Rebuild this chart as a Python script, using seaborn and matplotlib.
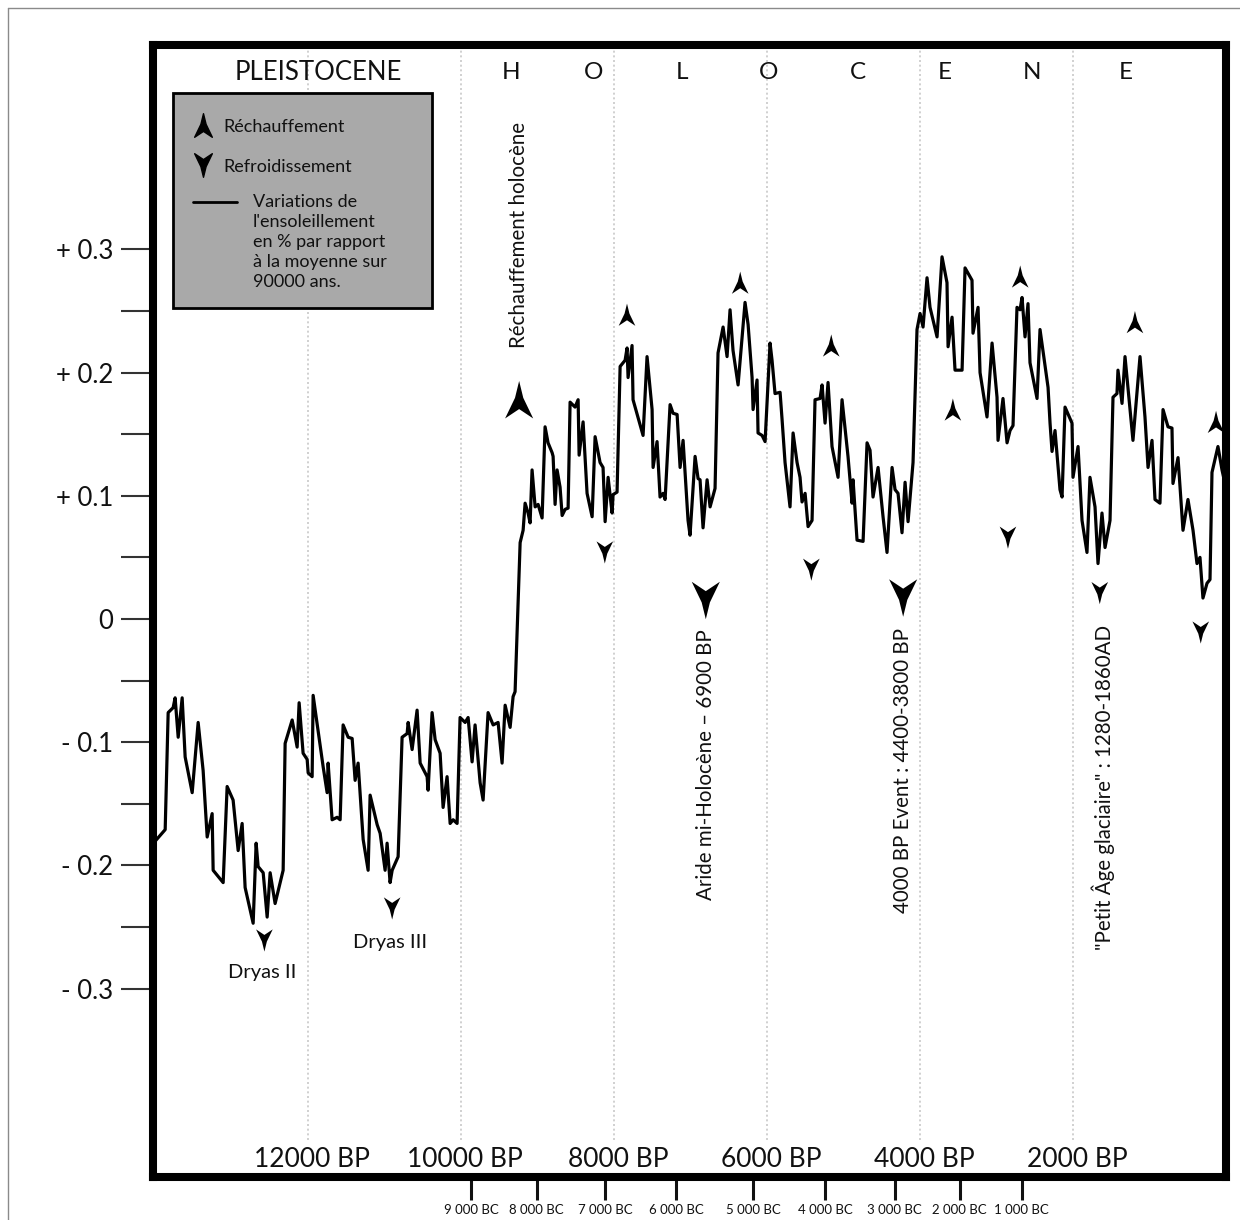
import matplotlib
matplotlib.use("Agg")
import matplotlib.pyplot as plt
import seaborn as sns
from matplotlib.path import Path
from matplotlib.patches import Rectangle
from matplotlib.lines import Line2D

# ---------------- data ----------------
years_bp = [14063, 13867, 13828, 13763, 13737, 13697, 13645, 13606, 13514, 13436,
            13371, 13318, 13253, 13240, 13109, 13057, 12979, 12913, 12861, 12822,
            12717, 12678, 12652, 12586, 12534, 12495, 12430, 12325, 12299, 12207,
            12142, 12116, 12064, 12011, 11998, 11946, 11933, 11802, 11750, 11737,
            11685, 11619, 11580, 11541, 11475, 11423, 11384, 11345, 11279, 11214,
            11188, 11096, 11057, 10992, 10966, 10927, 10900, 10822, 10770, 10704,
            10691, 10639, 10574, 10534, 10443, 10430, 10378, 10338, 10273, 10234,
            10182, 10142, 10103, 10051, 10012, 9946, 9907, 9855, 9816, 9750,
            9711, 9646, 9580, 9515, 9463, 9423, 9358, 9319, 9293, 9227,
            9188, 9162, 9123, 9097, 9071, 9031, 8992, 8940, 8901, 8862,
            8809, 8796, 8770, 8744, 8705, 8678, 8639, 8600, 8574, 8509,
            8469, 8456, 8404, 8352, 8286, 8247, 8182, 8143, 8116, 8077,
            8025, 8012, 7960, 7920, 7855, 7829, 7816, 7764, 7751, 7620,
            7568, 7502, 7489, 7437, 7398, 7358, 7332, 7267, 7228, 7175,
            7136, 7097, 7032, 7006, 6940, 6901, 6875, 6836, 6783, 6744,
            6679, 6640, 6574, 6522, 6483, 6444, 6378, 6287, 6247, 6195,
            6182, 6130, 6117, 6064, 6025, 5960, 5934, 5895, 5829, 5803,
            5764, 5699, 5659, 5607, 5568, 5542, 5502, 5463, 5411, 5372,
            5306, 5280, 5241, 5202, 5150, 5071, 5019, 4941, 4888, 4875,
            4823, 4744, 4692, 4653, 4614, 4548, 4483, 4431, 4365, 4326,
            4287, 4235, 4195, 4156, 4091, 4039, 3999, 3960, 3908, 3869,
            3777, 3712, 3647, 3633, 3581, 3542, 3450, 3411, 3320, 3307,
            3241, 3215, 3124, 3058, 2993, 2980, 2915, 2862, 2823, 2784,
            2732, 2692, 2666, 2627, 2588, 2562, 2470, 2431, 2326, 2300,
            2274, 2235, 2170, 2143, 2104, 2013, 2000, 1934, 1882, 1817,
            1778, 1712, 1673, 1621, 1581, 1516, 1477, 1425, 1412, 1359,
            1320, 1216, 1124, 1059, 1019, 967, 928, 863, 823, 758,
            706, 693, 627, 562, 497, 431, 379, 340, 301, 248,
            209, 183, 105, 52, 13]
insolation = [-0.185, -0.171, -0.076, -0.072, -0.064, -0.096, -0.064, -0.112, -0.141, -0.084,
              -0.123, -0.177, -0.158, -0.204, -0.214, -0.136, -0.147, -0.188, -0.166, -0.218,
              -0.247, -0.182, -0.201, -0.206, -0.242, -0.206, -0.231, -0.204, -0.101, -0.082,
              -0.104, -0.068, -0.109, -0.114, -0.125, -0.128, -0.062, -0.120, -0.141, -0.117,
              -0.163, -0.161, -0.163, -0.086, -0.096, -0.097, -0.131, -0.117, -0.179, -0.204,
              -0.143, -0.167, -0.174, -0.204, -0.182, -0.214, -0.204, -0.193, -0.096, -0.093,
              -0.084, -0.106, -0.074, -0.117, -0.128, -0.139, -0.076, -0.098, -0.109, -0.153,
              -0.128, -0.166, -0.163, -0.166, -0.080, -0.084, -0.080, -0.116, -0.086, -0.133,
              -0.147, -0.076, -0.086, -0.084, -0.117, -0.070, -0.088, -0.063, -0.059, 0.062,
              0.072, 0.094, 0.086, 0.078, 0.121, 0.091, 0.093, 0.082, 0.156, 0.143,
              0.135, 0.132, 0.093, 0.121, 0.107, 0.084, 0.089, 0.090, 0.176, 0.172,
              0.178, 0.133, 0.160, 0.102, 0.083, 0.148, 0.127, 0.123, 0.079, 0.115,
              0.086, 0.101, 0.103, 0.205, 0.210, 0.220, 0.196, 0.222, 0.178, 0.149,
              0.213, 0.170, 0.123, 0.144, 0.099, 0.102, 0.097, 0.174, 0.167, 0.166,
              0.123, 0.145, 0.080, 0.068, 0.132, 0.114, 0.113, 0.074, 0.113, 0.091,
              0.106, 0.216, 0.237, 0.213, 0.251, 0.218, 0.190, 0.257, 0.239, 0.196,
              0.170, 0.194, 0.151, 0.149, 0.144, 0.224, 0.210, 0.183, 0.184, 0.162,
              0.127, 0.091, 0.151, 0.127, 0.115, 0.095, 0.102, 0.075, 0.080, 0.178,
              0.179, 0.190, 0.159, 0.192, 0.140, 0.115, 0.178, 0.132, 0.094, 0.113,
              0.064, 0.063, 0.143, 0.137, 0.099, 0.123, 0.083, 0.054, 0.123, 0.105,
              0.102, 0.070, 0.111, 0.079, 0.127, 0.235, 0.248, 0.237, 0.277, 0.253,
              0.229, 0.294, 0.273, 0.221, 0.245, 0.202, 0.202, 0.285, 0.275, 0.232,
              0.253, 0.200, 0.164, 0.224, 0.180, 0.145, 0.179, 0.143, 0.153, 0.157,
              0.253, 0.251, 0.261, 0.229, 0.256, 0.208, 0.179, 0.235, 0.188, 0.159,
              0.136, 0.153, 0.105, 0.099, 0.172, 0.159, 0.115, 0.140, 0.080, 0.054,
              0.115, 0.091, 0.045, 0.086, 0.058, 0.080, 0.180, 0.183, 0.202, 0.175,
              0.213, 0.145, 0.213, 0.164, 0.123, 0.145, 0.097, 0.094, 0.170, 0.156,
              0.155, 0.110, 0.131, 0.072, 0.097, 0.072, 0.045, 0.050, 0.017, 0.029,
              0.032, 0.119, 0.140, 0.121, 0.110]

warm_bp = [7830, 6350, 5160, 3570, 2690, 1190, 130]
warm_val = [0.247, 0.273, 0.222, 0.170, 0.278, 0.241, 0.160]
cool_bp = [12570, 10900, 8120, 5420, 2850, 1650, 330]
cool_val = [-0.261, -0.235, 0.054, 0.040, 0.066, 0.021, -0.011]
big_warm_bp = [9240]
big_warm_val = [0.178]
big_cool_bp = [6800, 4220]
big_cool_val = [0.015, 0.017]

bp_ticks = [12000, 10000, 8000, 6000, 4000, 2000]
bp_labels = ["12000 BP", "10000 BP", "8000 BP", "6000 BP", "4000 BP", "2000 BP"]
bc_ticks_bp = [9870, 9010, 8120, 7190, 6180, 5240, 4330, 3480, 2670]
bc_labels = ["9 000 BC", "8 000 BC", "7 000 BC", "6 000 BC", "5 000 BC",
             "4 000 BC", "3 000 BC", "2 000 BC", "1 000 BC"]
y_ticks = [0.3, 0.2, 0.1, 0.0, -0.1, -0.2, -0.3]
y_labels = ["+ 0.3", "+ 0.2", "+ 0.1", "0", "- 0.1", "- 0.2", "- 0.3"]
y_minor = [0.25, 0.15, 0.05, -0.05, -0.15, -0.25]

holocene_letters = ["H", "O", "L", "O", "C", "E", "N", "E"]
holocene_bp = [9345, 8273, 7110, 5973, 4810, 3673, 2536, 1307]

event_texts = ["Réchauffement holocène", "Aride mi-Holocène – 6900 BP",
               "4000 BP Event : 4400-3800 BP", "\"Petit Âge glaciaire\" : 1280-1860AD"]
event_bp = [9240, 6796, 4222, 1608]
event_val = [0.312, -0.118, -0.123, -0.137]

dryas_texts = ["Dryas II", "Dryas III"]
dryas_bp = [12600, 10926]
dryas_val = [-0.287, -0.263]

legend_notes = ["Variations de", "l'ensoleillement", "en % par rapport",
                "à la moyenne sur", "90000 ans."]

# ---------------- style ----------------
sns.set_theme(style="white")
plt.rcParams['font.family'] = ['Lato', 'DejaVu Sans']
TXT = "#111111"

fig = plt.figure(figsize=(12.4, 12.2), dpi=100)
ax = fig.add_axes([0.1234, 0.03525, 0.8653, 0.9275])

# figure thin frame (top & left)
fig.add_artist(Line2D([0.0065, 1.0], [0.9934, 0.9934], color="#8a8a8a", lw=1.0))
fig.add_artist(Line2D([0.0065, 0.0065], [0.0, 0.9934], color="#8a8a8a", lw=1.0))

ymin, ymax = -0.4530, 0.4656
ax.set_xlim(14026, 0)
ax.set_ylim(ymin, ymax)

# dotted vertical guides
ax.vlines(bp_ticks, ymin=-0.423, ymax=ymax, colors="#c8c8c8",
          linestyles=(0, (1.2, 1.6)), linewidth=1.2, zorder=0)

# main curve
sns.lineplot(x=years_bp, y=insolation, ax=ax, sort=False, estimator=None,
             color="black", linewidth=2.3, zorder=3)

# arrow markers
up_verts = [(0, 1), (0.22, 0.1), (0.75, -1), (0, -0.5), (-0.75, -1), (-0.22, 0.1), (0, 1)]
codes = [Path.MOVETO] + [Path.LINETO] * 5 + [Path.CLOSEPOLY]
up_path = Path(up_verts, codes)
down_path = Path([(x, -y) for x, y in up_verts], codes)

sns.scatterplot(x=warm_bp, y=warm_val, ax=ax, marker=up_path, s=16 ** 2,
                color="black", edgecolor="none", zorder=4)
sns.scatterplot(x=cool_bp, y=cool_val, ax=ax, marker=down_path, s=16 ** 2,
                color="black", edgecolor="none", zorder=4)
sns.scatterplot(x=big_warm_bp, y=big_warm_val, ax=ax, marker=up_path, s=27 ** 2,
                color="black", edgecolor="none", zorder=4)
sns.scatterplot(x=big_cool_bp, y=big_cool_val, ax=ax, marker=down_path, s=27 ** 2,
                color="black", edgecolor="none", zorder=4)

# spines
for sp in ["left", "right", "top", "bottom"]:
    ax.spines[sp].set_visible(True)
    ax.spines[sp].set_linewidth(5.8)
    ax.spines[sp].set_color("black")
    ax.spines[sp].set_zorder(6)

# y ticks
ax.set_yticks(y_ticks)
ax.set_yticklabels(y_labels)
ax.set_yticks(y_minor, minor=True)
ax.tick_params(axis="y", which="both", direction="out", length=23, width=1.5,
               color="#333333", pad=5.8, labelsize=18.5, labelcolor=TXT, left=True)
# x ticks (BC)
ax.set_xticks(bc_ticks_bp)
ax.set_xticklabels(bc_labels)
ax.tick_params(axis="x", which="major", direction="out", length=16.5, width=2.2,
               color="#111111", pad=3, labelsize=9.5, labelcolor=TXT, bottom=True)
ax.grid(False)
ax.set_xlabel("")
ax.set_ylabel("")

# BP labels inside
for b, lab in zip(bp_ticks, bp_labels):
    ax.text(b - 55, -0.439, lab, ha="center", va="center", fontsize=19, color=TXT)

# epoch headings
ax.text(11868, 0.444, "PLEISTOCENE", ha="center", va="center", fontsize=18.5, color=TXT)
for b, letter in zip(holocene_bp, holocene_letters):
    ax.text(b, 0.444, letter, ha="center", va="center", fontsize=17.5, color=TXT)

# event annotations
for t, b, v in zip(event_texts, event_bp, event_val):
    ax.text(b, v, t, rotation=90, ha="center", va="center", fontsize=14.8, color=TXT)
for t, b, v in zip(dryas_texts, dryas_bp, dryas_val):
    ax.text(b, v, t, ha="center", va="center", fontsize=14.5, color=TXT)

# legend box
ax.add_patch(Rectangle((0.0186, 0.768), 0.2414, 0.190, transform=ax.transAxes,
                       facecolor="#a9a9a9", edgecolor="black", linewidth=2, zorder=5))
ax.plot([0.0466], [0.930], marker=up_path, markersize=17, color="black",
        transform=ax.transAxes, zorder=6, linestyle="none")
ax.plot([0.0466], [0.894], marker=down_path, markersize=17, color="black",
        transform=ax.transAxes, zorder=6, linestyle="none")
ax.text(0.066, 0.928, "Réchauffement", transform=ax.transAxes, ha="left", va="center",
        fontsize=13, color=TXT, zorder=6)
ax.text(0.066, 0.8926, "Refroidissement", transform=ax.transAxes, ha="left", va="center",
        fontsize=13, color=TXT, zorder=6)
ax.plot([0.0373, 0.0783], [0.8617, 0.8617], color="black", lw=2, transform=ax.transAxes,
        zorder=6)
for i, line in enumerate(legend_notes):
    ax.text(0.0932, 0.8617 - i * 0.01768, line, transform=ax.transAxes, ha="left",
            va="center", fontsize=13, color=TXT, zorder=6)

fig.savefig("out.png", dpi=100)
